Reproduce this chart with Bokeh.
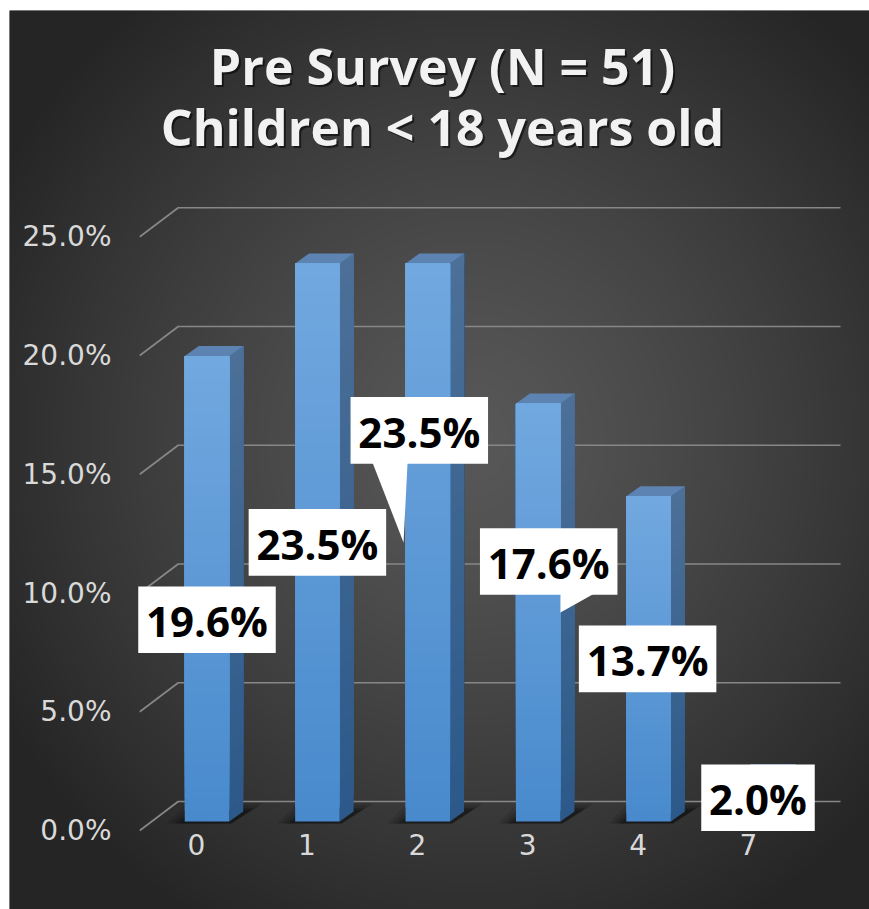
import numpy as np
from bokeh.plotting import figure
from bokeh.models import Range1d
from bokeh.core.properties import value
from bokeh.embed import file_html
from bokeh.resources import INLINE

# ---- data -------------------------------------------------------------
categories = ["0", "1", "2", "3", "4", "7"]
shares = [19.6, 23.5, 23.5, 17.6, 13.7, 2.0]          # percent of respondents
y_ticks = [0, 5, 10, 15, 20, 25]
y_tick_labels = ["0.0%", "5.0%", "10.0%", "15.0%", "20.0%", "25.0%"]
title_lines = ["Pre Survey (N = 51)", "Children < 18 years old"]

# ---- canvas geometry (pixels) -------------------------------------------
W, H = 869, 909
LEFT, TOP = 9, 10
X0_PX, X_SCALE = 206.5, 110.4      # centre of first bar front, px per category
Y0_PX, Y_SCALE = 821.0, 23.75      # 0 % on the bar front plane, px per percent


def fx(px):
    return (px - X0_PX) / X_SCALE


def fy(py):
    return (Y0_PX - py) / Y_SCALE


def dxp(px):
    return px / X_SCALE


def dyp(px):
    return px / Y_SCALE


BAR_W = dxp(44.5)
DEPTH_X, DEPTH_Y = dxp(14), dyp(10)     # oblique depth of each bar
WALL_FRONT_Y, WALL_BACK_Y = -dyp(9), dyp(20)

p = figure(width=W, height=H, output_backend="svg", toolbar_location=None,
           x_axis_type=None, y_axis_type=None,
           x_range=Range1d(fx(LEFT), fx(W)), y_range=Range1d(fy(H), fy(TOP)),
           min_border_left=LEFT, min_border_top=TOP,
           min_border_right=0, min_border_bottom=0)
p.border_fill_color = "white"
p.background_fill_color = "#2c2c2c"
p.outline_line_color = None

# ---- radial background -------------------------------------------------
fw, fh = W - LEFT, H - TOP
cols = LEFT + np.arange(fw) + 0.5
rows = H - (np.arange(fh) + 0.5)          # row 0 is the bottom of the frame
gx, gy = np.meshgrid(cols, rows)
r = np.sqrt(((gx - 470) / 540.0) ** 2 + ((gy - 440) / 560.0) ** 2)
t = np.clip(r, 0, 1) ** 1.25
lum = (88 - (88 - 37) * t).astype(np.uint8)
rgba = np.empty((fh, fw, 4), dtype=np.uint8)
rgba[..., 0] = lum
rgba[..., 1] = lum
rgba[..., 2] = lum
rgba[..., 3] = 255
img = rgba.view(dtype=np.uint32).reshape((fh, fw))
p.image_rgba(image=[img], x=fx(LEFT), y=fy(H), dw=fx(W) - fx(LEFT), dh=fy(TOP) - fy(H))

# ---- wall gridlines (oblique stub + back wall) ------------------------
grid_xs, grid_ys = [], []
for v in y_ticks:
    grid_xs.append([fx(139.3), fx(177.7), fx(840)])
    grid_ys.append([v + WALL_FRONT_Y, v + WALL_BACK_Y, v + WALL_BACK_Y])
p.multi_line(grid_xs, grid_ys, line_color="#878787", line_width=1.7)

# ---- bars ---------------------------------------------------------------
def lerp(c0, c1, f):
    return "#%02x%02x%02x" % tuple(int(round(a + (b - a) * f)) for a, b in zip(c0, c1))


FRONT_TOP, FRONT_BOT = (114, 168, 223), (72, 138, 205)
SIDE_TOP, SIDE_BOT = (76, 112, 152), (44, 89, 137)
TOP_FACE = "#5c83b2"
N_SLICES = 40

xs_idx = list(range(len(categories)))

# soft floor shadows
for grow, alpha in [(14, 0.10), (10, 0.12), (6, 0.16), (3, 0.2)]:
    sx, sy = [], []
    for i in xs_idx:
        xl, xr = i - BAR_W / 2, i + BAR_W / 2
        sx.append([xl - dxp(grow + 4), xr + dxp(2), xr + DEPTH_X + dxp(grow + 6),
                   xl + DEPTH_X - dxp(grow - 2)])
        sy.append([-dyp(2), -dyp(2), DEPTH_Y + dyp(grow * 0.6), DEPTH_Y + dyp(grow * 0.6)])
    p.patches(sx, sy, fill_color="black", fill_alpha=alpha, line_color=None)

# each slice runs from its own bottom to the bar top, so later (higher)
# slices paint over earlier ones and leave no seams
fq_l, fq_r, fq_b, fq_t, fq_c = [], [], [], [], []
side_xs, side_ys, side_c = [], [], []
top_xs, top_ys = [], []
for i, v in zip(xs_idx, shares):
    xl, xr = i - BAR_W / 2, i + BAR_W / 2
    for k in range(N_SLICES):
        y0 = v * k / N_SLICES
        f = (k + 0.5) / N_SLICES
        fq_l.append(xl)
        fq_r.append(xr)
        fq_b.append(y0)
        fq_t.append(v)
        fq_c.append(lerp(FRONT_BOT, FRONT_TOP, f))
        side_xs.append([xr, xr + DEPTH_X, xr + DEPTH_X, xr])
        side_ys.append([y0, y0 + DEPTH_Y, v + DEPTH_Y, v])
        side_c.append(lerp(SIDE_BOT, SIDE_TOP, f))
    top_xs.append([xl, xr, xr + DEPTH_X, xl + DEPTH_X])
    top_ys.append([v, v, v + DEPTH_Y, v + DEPTH_Y])

p.patches(side_xs, side_ys, fill_color=side_c, line_color=None)
p.patches(top_xs, top_ys, fill_color=TOP_FACE, line_color=None)
p.quad(left=fq_l, right=fq_r, bottom=fq_b, top=fq_t, fill_color=fq_c, line_color=None)

# ---- data labels (white boxes) -----------------------------------------
label_text = ["%.1f%%" % v for v in shares]
# box centre relative to the middle of each bar, in pixels
label_dx_px = [0, 0, -8.5, 10.5, -1, -1]
label_dy_px = [-31, 0, 112, 51, 0, 0]
box_h_px = 66.7

box_x, box_y, box_w = [], [], []
for i, v, t_, dx_, dy_ in zip(xs_idx, shares, label_text, label_dx_px, label_dy_px):
    box_x.append(i + dxp(dx_))
    box_y.append(v / 2 + dyp(dy_))
    box_w.append(137.5 if len(t_) >= 5 else 113.5)

# callout pointers for the two labels that were moved off their bars
call_xs, call_ys = [], []
# bar "2": pointer from the box bottom to the left edge of the bar
i2 = 2
b_left = box_x[i2] - dxp(box_w[i2] / 2)
b_bot = box_y[i2] - dyp(box_h_px / 2)
call_xs.append([b_left + dxp(22), b_left + dxp(57), i2 - BAR_W / 2 - dxp(2)])
call_ys.append([b_bot + dyp(1), b_bot + dyp(1), shares[i2] / 2])
# bar "3": pointer from the box bottom to the right edge of the bar
i3 = 3
b_left = box_x[i3] - dxp(box_w[i3] / 2)
b_bot = box_y[i3] - dyp(box_h_px / 2)
call_xs.append([i3 + BAR_W / 2, b_left + dxp(114), i3 + BAR_W / 2])
call_ys.append([b_bot + dyp(1), b_bot + dyp(1), shares[i3] / 2])
p.patches(call_xs, call_ys, fill_color="white", line_color=None)

p.rect(x=box_x, y=box_y, width=box_w, height=box_h_px,
       width_units="screen", height_units="screen",
       fill_color="white", line_color=None)
p.text(x=box_x, y=[y - dyp(1) for y in box_y], text=label_text, text_align="center",
       text_baseline="middle", text_font=value("Open Sans"),
       text_font_style="bold", text_font_size="42px", text_color="black")

# ---- axis texts -------------------------------------------------------
p.text(x=[fx(111)] * len(y_ticks), y=[v + WALL_FRONT_Y for v in y_ticks],
       text=y_tick_labels, text_align="right", text_baseline="middle",
       text_font=value("DejaVu Sans"), text_font_size="28px", text_color="#d9d9d9")
p.text(x=[i - dxp(10.5) for i in xs_idx], y=[fy(844)] * len(categories),
       text=categories, text_align="center", text_baseline="middle",
       text_font=value("DejaVu Sans"), text_font_size="28px", text_color="#d9d9d9")

# ---- title --------------------------------------------------------------
title_x = [fx(442)] * 2
title_y = [fy(65), fy(126.5)]
p.text(x=[x + dxp(2) for x in title_x], y=[y - dyp(2) for y in title_y], text=title_lines,
       text_align="center", text_baseline="middle", text_font=value("Open Sans"),
       text_font_style="bold", text_font_size="50px", text_color="black", text_alpha=0.55)
p.text(x=title_x, y=title_y, text=title_lines,
       text_align="center", text_baseline="middle", text_font=value("Open Sans"),
       text_font_style="bold", text_font_size="50px", text_color="#f2f2f2")

open("out.html", "w").write(file_html(p, INLINE))
